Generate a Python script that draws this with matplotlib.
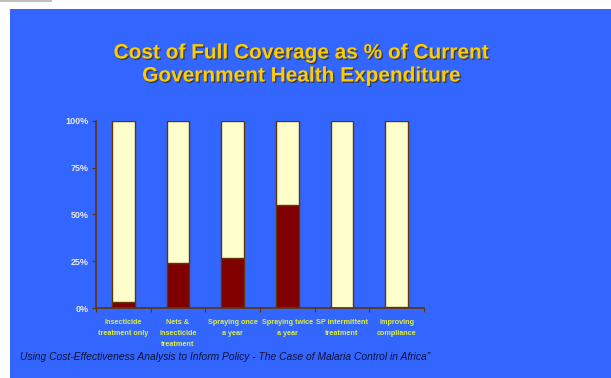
import matplotlib
matplotlib.use("Agg")
import matplotlib.pyplot as plt
import matplotlib.patheffects as pe
from matplotlib.patches import Rectangle
from matplotlib.ticker import FuncFormatter

categories = ["Insecticide\ntreatment only", "Nets &\ninsecticide\ntreatment", "Spraying once\na year",
              "Spraying twice\na year", "SP intermittent\ntreatment", "Improving\ncompliance"]
cost_pct = [3, 24, 27, 55, 0, 0.5]
rest_pct = [100 - v for v in cost_pct]
y_ticks = [0, 25, 50, 75, 100]

BLUE = "#3366FF"
CREAM = "#FFFFCC"
DARK = "#800000"
EDGE = "#663300"

plt.rcParams["font.family"] = ["Liberation Sans", "DejaVu Sans"]

fig = plt.figure(figsize=(6.11, 3.78), dpi=100)
fig.patch.set_facecolor("white")
# blue slide background + small gray strip top-left
fig.add_artist(Rectangle((10 / 611, 0), 1, 1 - 9 / 378, transform=fig.transFigure,
                         facecolor=BLUE, edgecolor="none", zorder=0))
fig.add_artist(Rectangle((0, 1 - 2 / 378), 52 / 611, 2 / 378, transform=fig.transFigure,
                         facecolor="#C0C0C0", edgecolor="none", zorder=0))

ax = fig.add_axes([96 / 611, 1 - 308 / 378, (424 - 96) / 611, (308 - 121) / 378])
ax.set_facecolor("none")
x = range(len(categories))
ax.bar(x, cost_pct, width=0.42, color=DARK, edgecolor=EDGE, linewidth=1)
ax.bar(x, rest_pct, bottom=cost_pct, width=0.42, color=CREAM, edgecolor=EDGE, linewidth=1)

ax.set_xlim(-0.5, len(categories) - 0.5)
ax.set_ylim(0, 100)
ax.set_yticks(y_ticks)
ax.yaxis.set_major_formatter(FuncFormatter(lambda v, p: f"{v:.0f}%"))
ax.set_xticks([i - 0.5 for i in range(len(categories) + 1)], minor=False)
ax.set_xticklabels([])
ax.set_xticks(list(x), minor=True)
ax.set_xticklabels(categories, minor=True, fontsize=5.2, fontweight="bold", color="#DDEE44",
                   linespacing=1.8, va="top")
ax.tick_params(axis="x", which="minor", length=0, pad=8)
ax.tick_params(axis="x", which="major", length=3, color=EDGE, direction="out")
ax.tick_params(axis="y", length=3, color=EDGE, labelsize=6.5, labelcolor="#E8E8E8", pad=2)
for lbl in ax.get_yticklabels():
    lbl.set_fontweight("bold")
for s in ["top", "right"]:
    ax.spines[s].set_visible(False)
for s in ["left", "bottom"]:
    ax.spines[s].set_color(EDGE)
    ax.spines[s].set_linewidth(1.2)

shadow = [pe.SimplePatchShadow(offset=(1, -1), shadow_rgbFace="#333333", alpha=0.8), pe.Normal()]
fig.text(302 / 611, 1 - 53 / 378, "Cost of Full Coverage as % of Current", ha="center", va="center",
         fontsize=15, fontweight="bold", color="#FFCC00", path_effects=shadow)
fig.text(302 / 611, 1 - 76 / 378, "Government Health Expenditure", ha="center", va="center",
         fontsize=15, fontweight="bold", color="#FFCC00", path_effects=shadow)

fig.text(20 / 611, 1 - 357 / 378,
         "Using Cost-Effectiveness Analysis to Inform Policy - The Case of Malaria Control in Africa\u201d",
         ha="left", va="center", fontsize=7.4, style="italic", color="#10103A")

fig.savefig("out.png", dpi=100)
